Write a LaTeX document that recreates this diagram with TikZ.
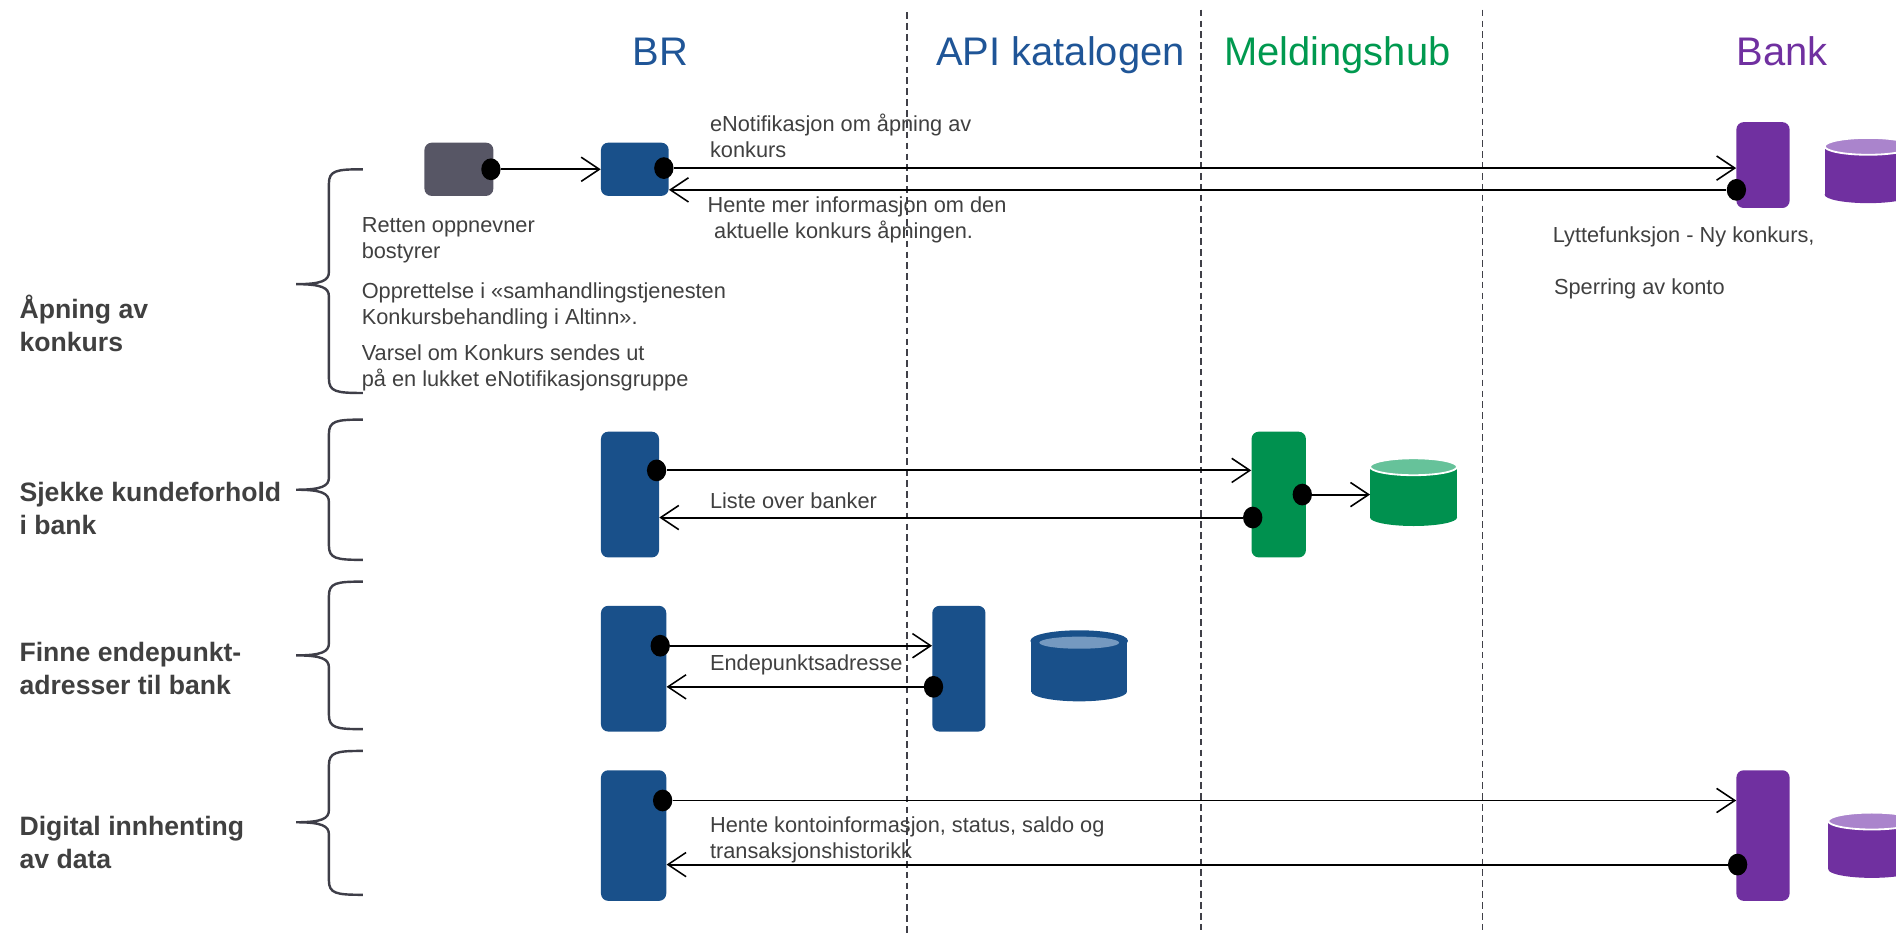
\documentclass[tikz,border=0pt]{standalone}
\usepackage{fontspec}
\setmainfont{Liberation Sans}
\usetikzlibrary{arrows.meta,shapes.geometric}
\definecolor{brblue}{HTML}{19508A}
\definecolor{titleblue}{HTML}{1F5597}
\definecolor{dbblue}{HTML}{7599C0}
\definecolor{courtgray}{HTML}{575665}
\definecolor{hubgreen}{HTML}{00914F}
\definecolor{hublight}{HTML}{66C29A}
\definecolor{titlegreen}{HTML}{00994F}
\definecolor{bankpurple}{HTML}{7030A0}
\definecolor{banklight}{HTML}{AA84CC}
\definecolor{notegray}{HTML}{404040}
\definecolor{bracegray}{HTML}{3E3E48}
\definecolor{lanegray}{HTML}{404048}
\def\dbdrum[#1/#2/#3](#4,#5)(#6:#7:#8){%
	\fill[#1] (#4-#6,#5) rectangle (#4+#6,#5+#8);
	\fill[#1] (#4,#5+#8) ellipse (#6pt and #7pt);
	\filldraw[fill=#2, draw=#3, line width=1.5pt] (#4,#5) ellipse (#6pt and #7pt);}
\def\groupbrace(#1:#2:#3){%
	\draw[line width=2pt, color=bracegray] (300,#1) .. controls (278,#1) and (272,#1+1) .. (272,#1+12) -- (272,#2-10) .. controls (272,#2-3) and (266,#2) .. (245,#2) .. controls (266,#2) and (272,#2+3) .. (272,#2+10) -- (272,#3-12) .. controls (272,#3-1) and (278,#3) .. (300,#3);}

\begin{document}
\begin{tikzpicture}[x=1pt, y=-1pt,
	lifebox/.style={rounded corners=6pt, inner sep=0pt},
	dot/.style={ellipse, fill=black, inner sep=0pt, minimum width=16pt, minimum height=18pt},
	msg/.style={line width=1.6pt, -{Straight Barb[length=15pt, width=20pt, line width=1.3pt]}},
	lane/.style={line width=1.3pt, color=lanegray, dash pattern=on 5.5pt off 3.5pt},
	note/.style={anchor=west, align=left, inner sep=0pt, text=notegray, font=\fontsize{18}{21.5}\selectfont},
	phase/.style={anchor=west, align=left, inner sep=0pt, text=notegray, font=\fontsize{22}{27}\selectfont\bfseries},
	actor/.style={anchor=base, inner sep=0pt, font=\fontsize{33}{40}\selectfont}]
		%%%%% START %%%%%
		\useasboundingbox (0,0) rectangle (1568,772);
		\clip (0,0) rectangle (1568,772);
		
		\draw[lane] (750,10) -- (750,772);
		\draw[lane] (993,8) -- (993,772);
		\draw[lane] (1226,8) -- (1226,772);
		
		\node[actor, text=titleblue] (brtitle) at (546,54) {BR};
		\node[actor, text=titleblue] (apititle) at (877,54) {API katalogen};
		\node[actor, text=titlegreen] (hubtitle) at (1106,54) {Meldingshub};
		\node[actor, text=bankpurple] (banktitle) at (1474,54) {Bank};
		
		%%%%% opening %%%%%
		\groupbrace(140:235:325)
		\node[phase] (phase1) at (16,267.5) {Åpning av\\konkurs};
		
		\node[lifebox, fill=courtgray, minimum width=57pt, minimum height=44pt] (court) at (379.5,140) {};
		\node[lifebox, fill=brblue, minimum width=56pt, minimum height=44pt] (br1) at (525,140) {};
		\node[lifebox, fill=bankpurple, minimum width=44pt, minimum height=71pt] (bank1) at (1458,136.5) {};
		\dbdrum[bankpurple/banklight/white](1545,121)(36:7:40)
		
		\node[dot] (courtout) at (406,140) {};
		\node[dot] (br1out) at (549,139) {};
		\node[dot] (bank1out) at (1436,157) {};
		\draw[msg] (courtout.east) -- (br1.west |- courtout);
		\draw[msg] (br1out.east) -- (bank1.west |- br1out);
		\draw[msg] (bank1out.west) -- (br1.east |- bank1out);
		
		\node[note] (notify) at (587,112.5) {eNotifikasjon om åpning av\\konkurs};
		\node[note] (fetchmore) at (585,182) {Hente mer informasjon om den\\\hspace*{0.3em}aktuelle konkurs åpningen.};
		\node[note] (court1) at (299,198.5) {Retten oppnevner\\bostyrer};
		\node[note] (court2) at (299,253) {Opprettelse i «samhandlingstjenesten\\Konkursbehandling i Altinn».};
		\node[note] (court3) at (299,304.5) {Varsel om Konkurs sendes ut\\på en lukket eNotifikasjonsgruppe};
		\node[note] (listen) at (1284,196) {Lyttefunksjon - Ny konkurs,};
		\node[note] (block) at (1285,239) {Sperring av konto};
		
		%%%%% customer check %%%%%
		\groupbrace(347:405:463)
		\node[phase] (phase2) at (16,420.5) {Sjekke kundeforhold\\i bank};
		
		\node[lifebox, fill=brblue, minimum width=48pt, minimum height=104pt] (br2) at (521,409) {};
		\node[lifebox, fill=hubgreen, minimum width=45pt, minimum height=104pt] (hub) at (1057.5,409) {};
		\dbdrum[hubgreen/hublight/white](1169,386)(36:7:42)
		\coordinate (hubdb) at (1133,409);
		
		\node[dot] (br2out) at (543,389) {};
		\node[dot] (hubin) at (1036,428) {};
		\node[dot] (hubout) at (1077,409) {};
		\draw[msg] (br2out.east) -- (hub.west |- br2out);
		\draw[msg] (hubin.west) -- (br2.east |- hubin);
		\draw[msg] (hubout.east) -- (hubdb |- hubout);
		
		\node[note] (banklist) at (587,414) {Liste over banker};
		
		%%%%% endpoints %%%%%
		\groupbrace(481:542:603)
		\node[phase] (phase3) at (16,553) {Finne endepunkt-\\adresser til bank};
		
		\node[lifebox, fill=brblue, minimum width=54pt, minimum height=104pt] (br3) at (524,553) {};
		\node[lifebox, fill=brblue, minimum width=44pt, minimum height=104pt] (api) at (793,553) {};
		\dbdrum[brblue/brblue/brblue](892.5,530)(39.5:8:42)
		\fill[dbblue] (892.5,531.5) ellipse (33pt and 5pt);
		
		\node[dot] (br3out) at (546,534) {};
		\node[dot] (apiout) at (772,568) {};
		\draw[msg] (br3out.east) -- (api.west |- br3out);
		\draw[msg] (apiout.west) -- (br3.east |- apiout);
		
		\node[note] (endpoint) at (587,550) {Endepunktsadresse};
		
		%%%%% account data %%%%%
		\groupbrace(621:680:740)
		\node[phase] (phase4) at (16,696.5) {Digital innhenting\\av data};
		
		\node[lifebox, fill=brblue, minimum width=54pt, minimum height=108pt] (br4) at (524,691) {};
		\node[lifebox, fill=bankpurple, minimum width=44pt, minimum height=108pt] (bank2) at (1458,691) {};
		\dbdrum[bankpurple/banklight/white](1548,679)(36:7:40)
		
		\node[dot] (br4out) at (548,662) {};
		\node[dot] (bank2out) at (1437,715) {};
		\draw[msg] (br4out.east) -- (bank2.west |- br4out);
		\draw[msg] (bank2out.west) -- (br4.east |- bank2out);
		
		\node[note] (account) at (587,694.5) {Hente kontoinformasjon, status, saldo og\\transaksjonshistorikk};
		%%%%% END %%%%%
\end{tikzpicture}
\end{document}
